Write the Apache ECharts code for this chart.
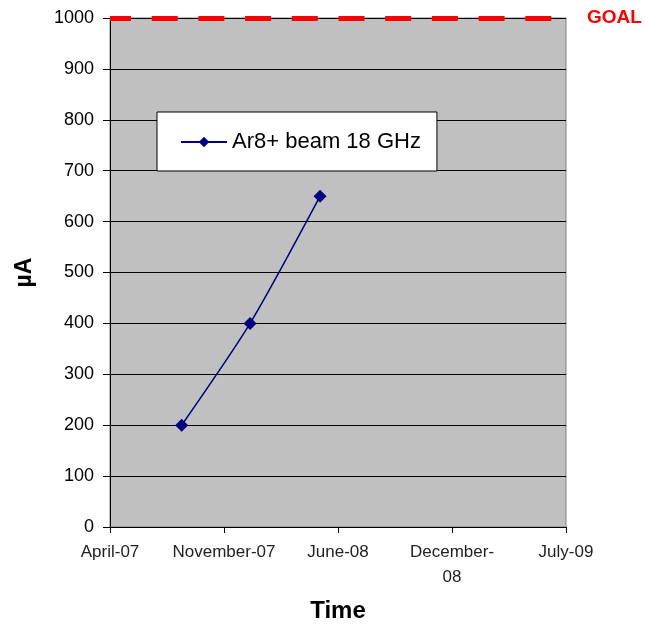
<!DOCTYPE html>
<html>
<head>
<meta charset="utf-8">
<script src="https://cdn.jsdelivr.net/npm/echarts@6/dist/echarts.min.js"></script>
<style>
  html, body { margin: 0; padding: 0; background: #fff; }
  #chart { width: 645px; height: 624px; }
</style>
</head>
<body>
<div id="chart"></div>
<script>
// months counted from April-07, ticks every 7 months
const xTickLabels = ['April-07', 'November-07', 'June-08', 'December-\n08', 'July-09'];
const beamMonths = [4.4, 8.6, 12.9];
const beamValues = [200, 400, 650];
const goalValue = 1000;
const seriesName = 'Ar8+ beam 18 GHz';

const font = 'Liberation Sans, Arial, sans-serif';
const chart = echarts.init(document.getElementById('chart'));

const option = {
    animation: false,
    textStyle: { fontFamily: font },
    grid: {
        left: 110,
        right: 79,
        top: 18,
        bottom: 97,
        outerBoundsMode: 'none',
        show: true,
        backgroundColor: '#c0c0c0',
        borderColor: '#808080',
        borderWidth: 1
    },
    legend: {
        left: 157,
        top: 112,
        padding: [19, 16, 18, 23],
        backgroundColor: '#ffffff',
        borderColor: '#000000',
        borderWidth: 1,
        borderRadius: 0,
        itemWidth: 46,
        itemHeight: 13,
        itemGap: 4,
        textStyle: { fontSize: 22, color: '#000', fontFamily: font },
        data: [seriesName]
    },
    xAxis: {
        type: 'value',
        min: 0,
        max: 28,
        interval: 7,
        name: 'Time',
        nameLocation: 'middle',
        nameGap: 72,
        nameTextStyle: { fontSize: 24, fontWeight: 'bold', color: '#000' },
        splitLine: { show: false },
        axisLine: { lineStyle: { color: '#000', width: 1 } },
        axisTick: { show: true, length: 6, lineStyle: { color: '#000' } },
        axisLabel: {
            margin: 13,
            fontSize: 17,
            color: '#222',
            lineHeight: 25,
            verticalAlign: 'top',
            formatter: v => xTickLabels[Math.round(v / 7)]
        }
    },
    yAxis: {
        type: 'value',
        min: 0,
        max: 1000,
        interval: 100,
        name: 'µA',
        nameLocation: 'middle',
        nameGap: 74,
        nameTextStyle: { fontSize: 23, fontWeight: 'bold', color: '#000' },
        splitLine: { show: true, lineStyle: { color: '#000', width: 1 } },
        axisLine: { show: true, lineStyle: { color: '#000', width: 1 } },
        axisTick: { show: true, length: 7, lineStyle: { color: '#000' } },
        axisLabel: { margin: 16, fontSize: 18, color: '#000', formatter: v => String(v) }
    },
    series: [
        {
            name: seriesName,
            type: 'line',
            smooth: 0.25,
            data: beamMonths.map((m, i) => [m, beamValues[i]]),
            symbol: 'diamond',
            symbolSize: 13,
            lineStyle: { color: '#000080', width: 1.5 },
            itemStyle: { color: '#000080' },
            markLine: {
                silent: true,
                symbol: ['none', 'none'],
                lineStyle: { color: '#ff0000', width: 5, type: [26, 20.7], dashOffset: 5 },
                label: {
                    show: true,
                    position: 'end',
                    distance: 21,
                    formatter: 'GOAL',
                    color: '#ff0000',
                    fontSize: 19,
                    fontWeight: 'bold',
                    fontFamily: font
                },
                data: [{ yAxis: goalValue }]
            }
        }
    ]
};

chart.setOption(option);
</script>
</body>
</html>
